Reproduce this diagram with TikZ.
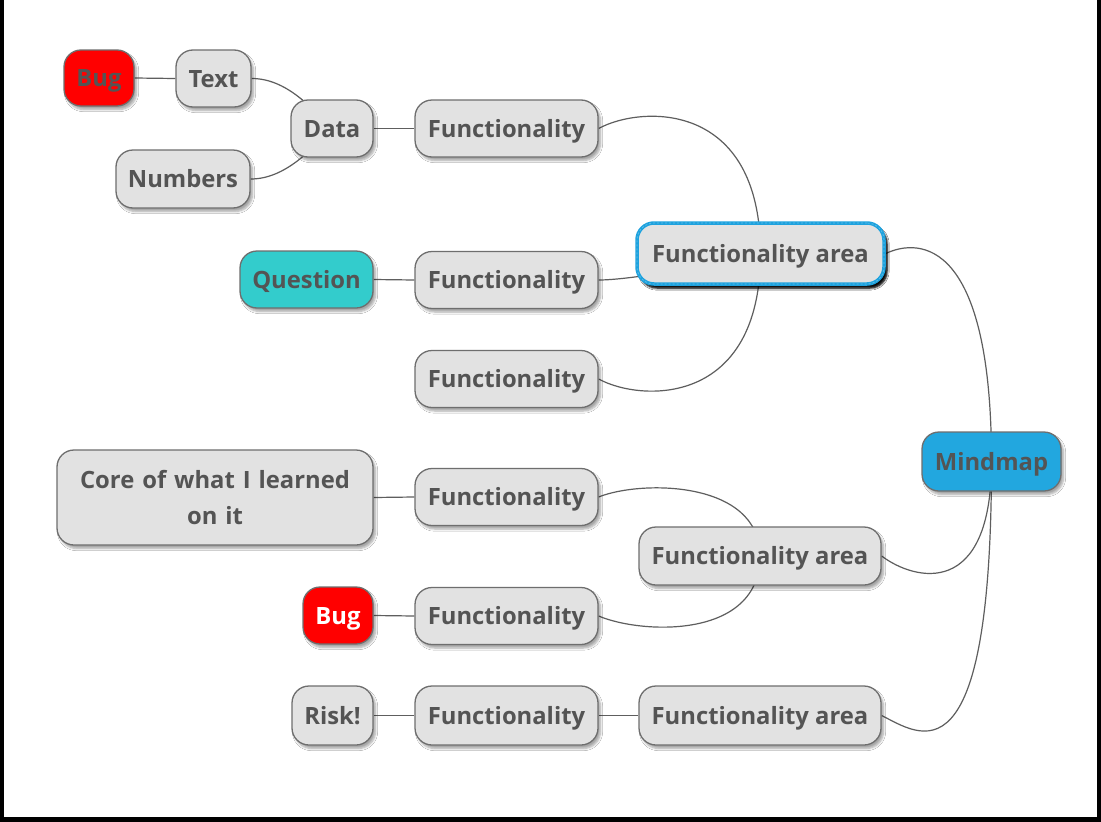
\documentclass[tikz,border=0pt]{standalone}
\usepackage{fontspec}
\setmainfont{Open Sans}
\usetikzlibrary{shadows,shadows.blur}
\definecolor{nodeFill}{HTML}{E2E2E2}
\definecolor{nodeBorder}{HTML}{6E6E6E}
\definecolor{textGray}{HTML}{545454}
\definecolor{lineGray}{HTML}{5E5E5E}
\definecolor{bugRed}{HTML}{FF0000}
\definecolor{qTeal}{HTML}{33CCCC}
\definecolor{mindBlue}{HTML}{22A7DF}
\definecolor{faBlue}{HTML}{1EA2DE}
\pgfdeclarelayer{background}
\pgfsetlayers{background,main}
\begin{document}
\begin{tikzpicture}[x=1pt,y=-1pt,
  box/.style={rounded corners=17pt, draw=nodeBorder, line width=1.3pt, fill=nodeFill,
    text=textGray, font=\fontsize{23.8}{28}\selectfont\bfseries, inner sep=0pt,
    text height=23pt, text depth=6pt,
    blur shadow={shadow xshift=2.5pt, shadow yshift=-3.5pt, shadow blur steps=6, shadow opacity=35}},
  fbox/.style={box, minimum width=183pt, minimum height=57pt},
  abox/.style={box, minimum width=242pt, minimum height=58pt},
  conn/.style={draw=lineGray, line width=1.2pt}
]
\useasboundingbox (0,0) rectangle (1101,822);

% nodes
\node[box, minimum width=70pt, minimum height=56pt, fill=bugRed] (bug1) at (99,78) {Bug};
\node[box, minimum width=75pt, minimum height=57pt] (text) at (213.5,78.5) {Text};
\node[box, minimum width=82pt, minimum height=57pt] (data) at (332,128.5) {Data};
\node[box, minimum width=134pt, minimum height=58pt] (numbers) at (183,179) {Numbers};
\node[fbox] (f1) at (506.5,128.5) {Functionality};
\node[box, minimum width=133pt, minimum height=57pt, fill=qTeal] (question) at (306.5,279.5) {Question};
\node[fbox] (f2) at (506.5,280) {Functionality};
\node[box, minimum width=247pt, minimum height=61pt, draw=faBlue, line width=3.5pt,
  blur shadow={shadow xshift=3pt, shadow yshift=-4pt, shadow blur steps=4, shadow opacity=85},
  postaction={draw=white, opacity=0.3, line width=0.7pt, dash pattern=on 2pt off 2pt}] (fa1) at (760.5,253.5) {Functionality area};
\node[fbox] (f3) at (506.5,379) {Functionality};
\node[box, minimum width=139pt, minimum height=59pt, fill=mindBlue] (mind) at (991.5,461.5) {Mindmap};
\node[box, minimum width=316pt, minimum height=95pt, text width=305pt, align=center,
  text height=, text depth=, font=\fontsize{23.8}{36}\selectfont\bfseries] (core) at (215,497.5) {Core of what I learned\\on it};
\node[fbox] (f4) at (506.5,497) {Functionality};
\node[abox] (fa2) at (760,556) {Functionality area};
\node[box, minimum width=70pt, minimum height=57pt, fill=bugRed, text=white] (bug2) at (338,615.5) {Bug};
\node[fbox] (f5) at (506.5,616) {Functionality};
\node[box, minimum width=81pt, minimum height=59pt] (risk) at (332.5,715.5) {Risk!};
\node[fbox, minimum height=59pt] (f6) at (506.5,715.5) {Functionality};
\node[abox, minimum height=59pt] (fa3) at (760,715.5) {Functionality area};

% background, frame and connectors
\begin{pgfonlayer}{background}
\fill[white] (0,0) rectangle (1101,822);
\fill[black] (0,0) rectangle (4,822);
\fill[black] (1097,0) rectangle (1101,822);
\fill[black] (0,817) rectangle (1101,822);
\draw[conn] (bug1.east) -- (text.west);
\draw[conn] (text.east) .. controls +(35,0) and +(-20,-20) .. (data.center);
\draw[conn] (numbers.east) .. controls +(35,0) and +(-20,20) .. (data.center);
\draw[conn] (data.east) -- (f1.west);
\draw[conn] (f1.east) .. controls +(42,-23) and +(0,-154) .. (fa1.center);
\draw[conn] (question.east) -- (f2.west);
\draw[conn] (f2.east) .. controls +(27,0) and +(-70,16) .. (fa1.center);
\draw[conn] (f3.east) .. controls +(42,23) and +(0,154) .. (fa1.center);
\draw[conn] (fa1.east) .. controls +(34,-16) and +(0,-222) .. (mind.center);
\draw[conn] (core.east) -- (f4.west);
\draw[conn] (f4.east) .. controls +(42,-17) and +(0,-76) .. (fa2.center);
\draw[conn] (bug2.east) -- (f5.west);
\draw[conn] (f5.east) .. controls +(42,18) and +(0,84) .. (fa2.center);
\draw[conn] (fa2.east) .. controls +(33,25) and +(0,138) .. (mind.center);
\draw[conn] (risk.east) -- (f6.west);
\draw[conn] (f6.east) -- (fa3.west);
\draw[conn] (fa3.east) .. controls +(38,19) and +(0,328) .. (mind.center);
\end{pgfonlayer}
\end{tikzpicture}
\end{document}
